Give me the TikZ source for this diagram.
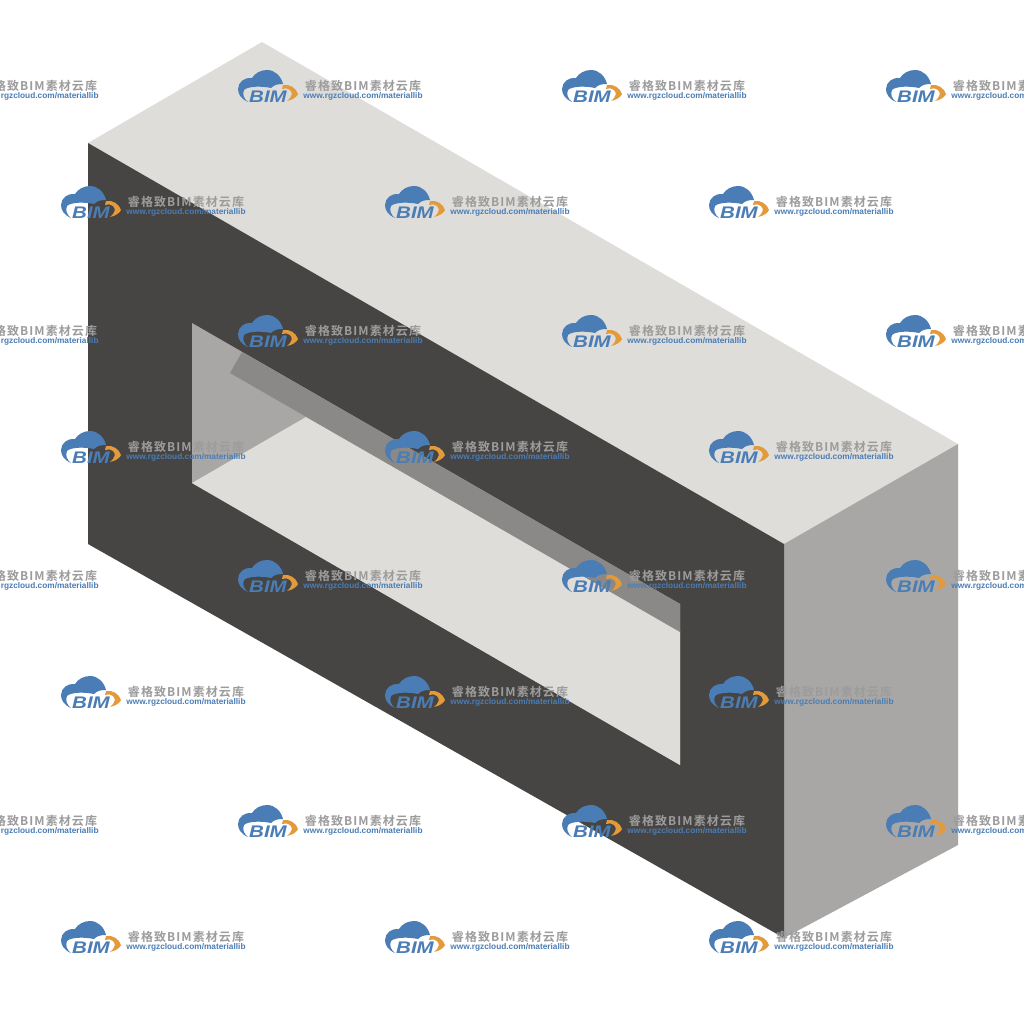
\documentclass[tikz,border=0pt]{standalone}
\usepackage{fontspec}
\setmainfont{Liberation Sans}
\newfontfamily\cjkwm{Noto Sans CJK SC}[BoldFont={Noto Sans CJK SC Bold},LetterSpace=9]
\definecolor{topface}{HTML}{DEDDDA}
\definecolor{frontface}{HTML}{474543}
\definecolor{sideface}{HTML}{A8A7A5}
\definecolor{bandface}{HTML}{8A8987}
\definecolor{wmblue}{HTML}{4A7DB5}
\definecolor{wmorange}{HTML}{E39A3B}
\definecolor{wmgray}{HTML}{9C9C9C}
\tikzset{
  wmcn/.style={inner sep=0pt,text=wmgray,font=\cjkwm\bfseries\fontsize{12}{13}\selectfont,anchor=center},
  wmurl/.style={inner sep=0pt,text=wmblue,font=\bfseries\fontsize{8.3}{8}\selectfont,anchor=center},
  wmbim/.style={inner sep=0pt,text=wmblue,font=\bfseries\itshape\fontsize{16.8}{17}\selectfont,anchor=center,xscale=1.22},
  wmcloud/.style={fill=wmblue,draw=none},
  wmarc/.style={fill=wmorange,draw=none},
}
\newcommand{\wmark}[2]{%
  \begin{scope}[shift={(#1,#2)}]
    \fill[wmcloud] (10,15) .. controls (3,12) and (0,7) .. (0,2)
      .. controls (0,-5) and (7,-10) .. (14,-9)
      .. controls (17,-14) and (23,-17) .. (29,-17)
      .. controls (37,-17) and (43,-11) .. (45,-3)
      .. controls (39,-3) and (36,-2) .. (33,1)
      .. controls (24,-1) and (10,-1) .. (6,3)
      .. controls (4,7) and (6,12) .. (10,15) -- cycle;
    \fill[wmarc] (45,-2) .. controls (52,-3) and (58,1) .. (60,7)
      .. controls (59,10) and (54,13) .. (49,14)
      .. controls (54,10) and (55,6) .. (52,3)
      .. controls (50,1) and (47,1) .. (44,2) -- cycle;
    \node[wmbim] (bim#1x#2) at (30,10) {BIM};
    \node[wmcn] (cn#1x#2) at (125,-1.5) {睿格致BIM素材云库};
    \node[wmurl] (url#1x#2) at (125,9) {www.rgzcloud.com/materiallib};
  \end{scope}}
\begin{document}
\begin{tikzpicture}[x=1pt,y=-1pt]
\useasboundingbox (0,0) rectangle (1024,1024);
\clip (0,0) rectangle (1024,1024);
\fill[white] (0,0) rectangle (1024,1024);
% block faces
\fill[topface] (262,42) -- (958,444) -- (784,544) -- (88,143) -- cycle;
\fill[sideface] (958,444) -- (784,544) -- (784,938) -- (958,845) -- cycle;
\fill[frontface] (88,143) -- (784,544) -- (784,938) -- (88,544) -- cycle;
% opening
\fill[sideface] (192,323) -- (680,604) -- (680,765) -- (192,483) -- cycle;
\fill[topface] (192,483) -- (306,417) -- (680,631) -- (680,765) -- cycle;
\fill[bandface] (242,352) -- (680,604) -- (680,632) -- (230,373) -- cycle;
% watermark
\foreach \y in {87,332,577,822}
  \foreach \x in {-86,238,562,886}
    {\wmark{\x}{\y}}
\foreach \y in {203,448,693,938}
  \foreach \x in {61,385,709}
    {\wmark{\x}{\y}}
\end{tikzpicture}
\end{document}
